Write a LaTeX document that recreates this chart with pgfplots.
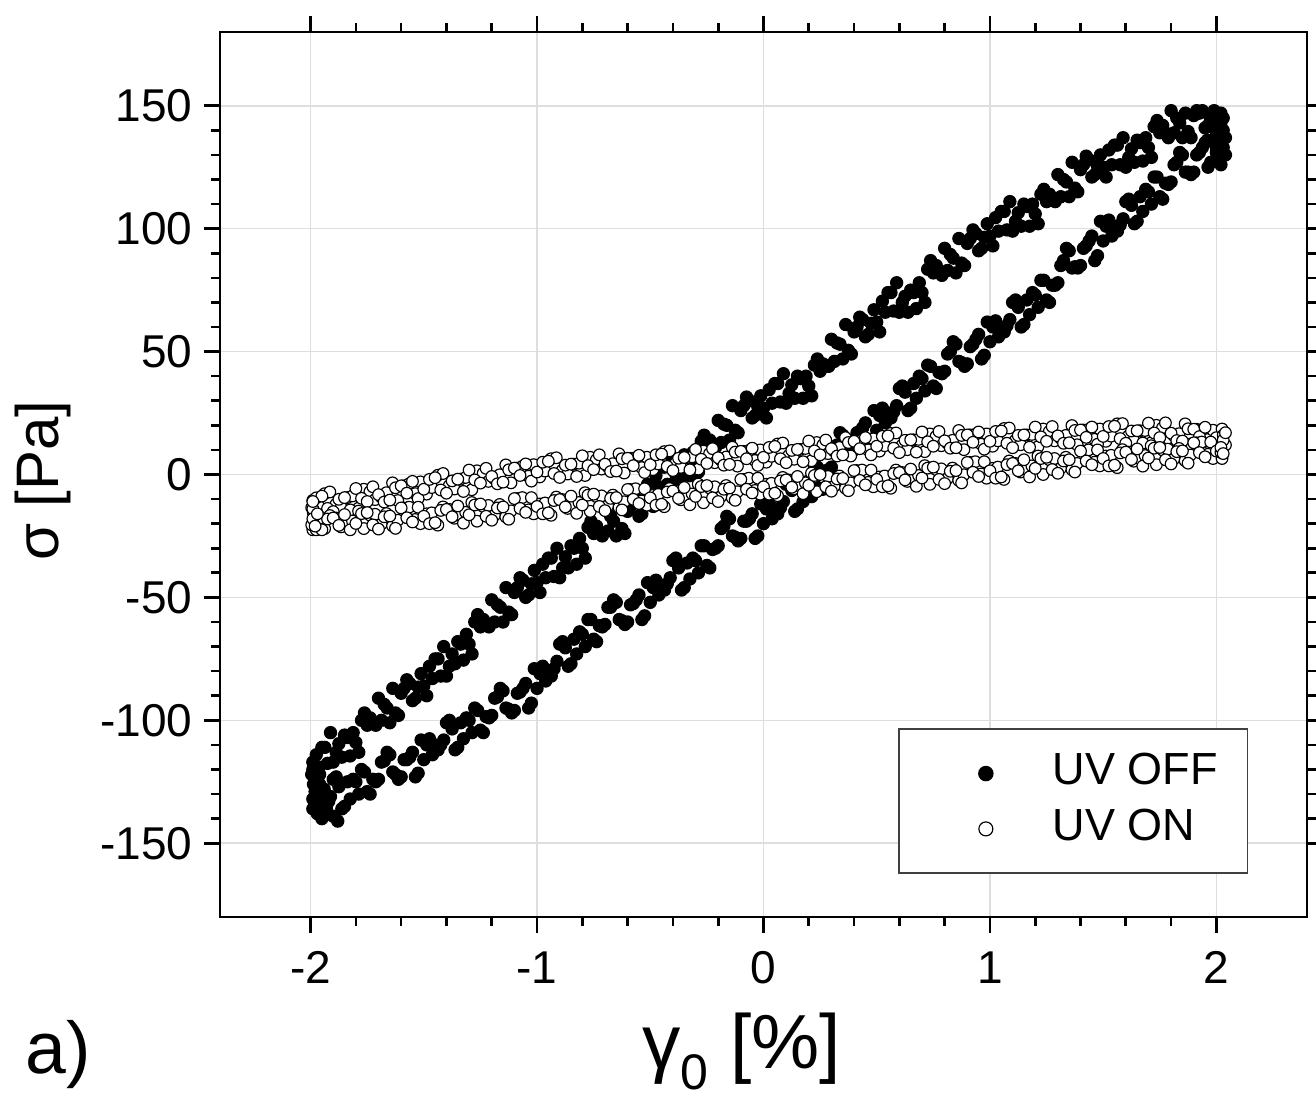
\documentclass[border=0pt]{standalone}
\usepackage{pgfplots}
\pgfplotsset{compat=1.18}
\usepackage{fontspec}
\setmainfont{Liberation Sans}

\begin{document}
\begin{tikzpicture}
\begin{axis}[
    width=326.1pt, height=265.5pt, scale only axis,
    xmin=-2.4, xmax=2.4, ymin=-180, ymax=180,
    xtick={-2,-1,0,1,2},
    ytick={-150,-100,-50,0,50,100,150},
    minor x tick num=4, minor y tick num=4,
    tick align=outside,
    major tick length=4.8pt, minor tick length=2.6pt,
    every tick/.style={black, line width=0.8pt},
    axis line style={line width=0.8pt},
    grid=major,
    major grid style={color=black!13, line width=0.45pt},
    /pgf/number format/assume math mode=true,
    tick label style={font=\fontsize{13.8}{16}\selectfont},
    xticklabel style={yshift=-2pt},
    xlabel={γ\raisebox{-0.5ex}{\fontsize{15}{15}\selectfont 0} [\%]},
    xlabel style={font=\fontsize{23}{26}\selectfont, at={(axis description cs:0.48,0)}, anchor=base, yshift=-45.6pt},
    ylabel={σ [Pa]},
    ylabel style={font=\fontsize{18}{21}\selectfont, at={(axis description cs:-0.1626,0.493)}, anchor=center},
    legend style={at={(0.946,0.0486)}, anchor=south east, draw=black!75, line width=0.45pt,
        inner xsep=7pt, inner ysep=5pt, font=\fontsize{13.5}{16}\selectfont,
        nodes={text height=9.8pt, text depth=3pt, inner ysep=1.9pt}},
    legend cell align=left,
    legend image code/.code={\path[draw=none, fill=none] (-3pt,-3pt) rectangle (34pt,3pt);
        \draw[mark size=2.1pt] plot coordinates {(16pt,0pt)};},
]

% UV OFF: upper branch, lower branch, end clusters
\addplot[only marks, mark=*, mark size=1.8pt, mark options={fill=black, draw=black}] table[row sep=\\] {
x y \\
-1.990 -117 \\ -1.987 -126 \\ -1.962 -119 \\ -1.937 -111 \\
-1.912 -105 \\ -1.887 -113 \\ -1.862 -115 \\ -1.837 -107 \\
-1.812 -105 \\ -1.787 -113 \\ -1.762 -97 \\ -1.737 -99 \\
-1.712 -102 \\ -1.687 -100 \\ -1.662 -95 \\ -1.637 -87 \\
-1.612 -98 \\ -1.587 -87 \\ -1.562 -85 \\ -1.537 -91 \\
-1.512 -81 \\ -1.487 -90 \\ -1.462 -83 \\ -1.437 -75 \\
-1.412 -70 \\ -1.387 -78 \\ -1.362 -77 \\ -1.337 -69 \\
-1.312 -65 \\ -1.287 -73 \\ -1.262 -57 \\ -1.237 -59 \\
-1.212 -62 \\ -1.187 -60 \\ -1.162 -54 \\ -1.137 -46 \\
-1.112 -57 \\ -1.087 -46 \\ -1.062 -43 \\ -1.037 -49 \\
-1.012 -39 \\ -0.987 -48 \\ -0.962 -42 \\ -0.937 -34 \\
-0.912 -30 \\ -0.887 -38 \\ -0.862 -38 \\ -0.837 -30 \\
-0.812 -26 \\ -0.787 -34 \\ -0.762 -19 \\ -0.737 -21 \\
-0.712 -25 \\ -0.687 -23 \\ -0.662 -19 \\ -0.637 -11 \\
-0.612 -24 \\ -0.587 -13 \\ -0.562 -10 \\ -0.537 -16 \\
-0.512 -4 \\ -0.487 -13 \\ -0.462 -5 \\ -0.437 3 \\
-0.412 8 \\ -0.387 0 \\ -0.362 -1 \\ -0.337 7 \\
-0.312 9 \\ -0.287 1 \\ -0.262 16 \\ -0.237 14 \\
-0.212 11 \\ -0.187 13 \\ -0.162 20 \\ -0.137 28 \\
-0.112 17 \\ -0.087 28 \\ -0.062 30 \\ -0.037 24 \\
-0.012 32 \\ 0.013 23 \\ 0.038 29 \\ 0.063 37 \\
0.088 41 \\ 0.113 33 \\ 0.138 31 \\ 0.163 39 \\
0.188 40 \\ 0.213 32 \\ 0.238 47 \\ 0.263 45 \\
0.288 44 \\ 0.313 46 \\ 0.338 53 \\ 0.363 61 \\
0.388 49 \\ 0.413 60 \\ 0.438 63 \\ 0.463 57 \\
0.488 67 \\ 0.513 58 \\ 0.538 66 \\ 0.563 74 \\
0.588 78 \\ 0.613 70 \\ 0.638 66 \\ 0.663 74 \\
0.688 78 \\ 0.713 70 \\ 0.738 87 \\ 0.763 85 \\
0.788 81 \\ 0.813 83 \\ 0.838 88 \\ 0.863 96 \\
0.888 85 \\ 0.913 96 \\ 0.938 98 \\ 0.963 92 \\
0.988 102 \\ 1.013 93 \\ 1.038 99 \\ 1.063 107 \\
1.088 111 \\ 1.113 103 \\ 1.138 101 \\ 1.163 109 \\
1.188 110 \\ 1.213 102 \\ 1.238 116 \\ 1.263 114 \\
1.288 111 \\ 1.313 113 \\ 1.338 119 \\ 1.363 127 \\
1.388 115 \\ 1.413 126 \\ 1.438 128 \\ 1.463 122 \\
1.488 130 \\ 1.513 121 \\ 1.538 126 \\ 1.563 134 \\
1.588 137 \\ 1.613 129 \\ 1.638 127 \\ 1.663 135 \\
1.688 137 \\ 1.713 129 \\ 1.738 144 \\ 1.763 142 \\
1.788 137 \\ 1.813 139 \\ 1.838 143 \\ 1.863 147 \\
1.888 137 \\ 1.913 148 \\ 1.938 148 \\ 1.963 142 \\
1.988 147 \\ 2.013 138 \\
-1.995 -122 \\ -1.975 -114 \\ -1.950 -111 \\ -1.925 -117.5 \\
-1.900 -117 \\ -1.875 -109.5 \\ -1.850 -106 \\ -1.825 -114.5 \\
-1.800 -109 \\ -1.775 -100 \\ -1.750 -102 \\ -1.725 -101 \\
-1.700 -91 \\ -1.675 -93.5 \\ -1.650 -101 \\ -1.625 -97 \\
-1.600 -89 \\ -1.575 -83.5 \\ -1.550 -92 \\ -1.525 -86.5 \\
-1.500 -86 \\ -1.475 -78 \\ -1.450 -75 \\ -1.425 -82 \\
-1.400 -82 \\ -1.375 -73 \\ -1.350 -68 \\ -1.325 -75.5 \\
-1.300 -69 \\ -1.275 -60 \\ -1.250 -62 \\ -1.225 -61 \\
-1.200 -51 \\ -1.175 -53 \\ -1.150 -60 \\ -1.125 -56 \\
-1.100 -48 \\ -1.075 -42 \\ -1.050 -50 \\ -1.025 -44.5 \\
-1.000 -44 \\ -0.975 -36.5 \\ -0.950 -34 \\ -0.925 -41.5 \\
-0.900 -42 \\ -0.875 -33.5 \\ -0.850 -29 \\ -0.825 -36.5 \\
-0.800 -30 \\ -0.775 -21.5 \\ -0.750 -24 \\ -0.725 -23.5 \\
-0.700 -14 \\ -0.675 -17 \\ -0.650 -25 \\ -0.625 -22 \\
-0.600 -15 \\ -0.575 -9 \\ -0.550 -17 \\ -0.525 -10.5 \\
-0.500 -9 \\ -0.475 -0.5 \\ -0.450 3 \\ -0.425 -4 \\
-0.400 -4 \\ -0.375 4 \\ -0.350 8 \\ -0.325 -0.5 \\
-0.300 5 \\ -0.275 13.5 \\ -0.250 11 \\ -0.225 12 \\
-0.200 22 \\ -0.175 20.5 \\ -0.150 14 \\ -0.125 18 \\
-0.100 26 \\ -0.075 31.5 \\ -0.050 23 \\ -0.025 27.5 \\
0.000 27 \\ 0.025 34.5 \\ 0.050 37 \\ 0.075 29.5 \\
0.100 29 \\ 0.125 36.5 \\ 0.150 40 \\ 0.175 31 \\
0.200 36 \\ 0.225 44.5 \\ 0.250 42 \\ 0.275 44 \\
0.300 55 \\ 0.325 53.5 \\ 0.350 47 \\ 0.375 50.5 \\
0.400 58 \\ 0.425 64 \\ 0.450 56 \\ 0.475 61.5 \\
0.500 62 \\ 0.525 70.5 \\ 0.550 74 \\ 0.575 66.5 \\
0.600 66 \\ 0.625 72.5 \\ 0.650 75 \\ 0.675 67.5 \\
0.700 74 \\ 0.725 83.5 \\ 0.750 82 \\ 0.775 82.5 \\
0.800 92 \\ 0.825 89.5 \\ 0.850 82 \\ 0.875 86 \\
0.900 94 \\ 0.925 99.5 \\ 0.950 91 \\ 0.975 96.5 \\
1.000 97 \\ 1.025 104.5 \\ 1.050 107 \\ 1.075 99.5 \\
1.100 99 \\ 1.125 106.5 \\ 1.150 110 \\ 1.175 101 \\
1.200 106 \\ 1.225 114 \\ 1.250 111 \\ 1.275 112 \\
1.300 122 \\ 1.325 120 \\ 1.350 113 \\ 1.375 116.5 \\
1.400 124 \\ 1.425 129.5 \\ 1.450 121 \\ 1.475 125.5 \\
1.500 125 \\ 1.525 132 \\ 1.550 134 \\ 1.575 126 \\
1.600 125 \\ 1.625 132.5 \\ 1.650 136 \\ 1.675 127.5 \\
1.700 133 \\ 1.725 141.5 \\ 1.750 139 \\ 1.775 139 \\
1.800 148 \\ 1.825 145 \\ 1.850 137 \\ 1.875 139.5 \\
1.900 146 \\ 1.925 147 \\ 1.950 141 \\ 1.975 144 \\
2.000 142 \\
-1.962 -137 \\ -1.937 -135 \\ -1.912 -131 \\ -1.887 -123 \\
-1.862 -136 \\ -1.837 -125 \\ -1.812 -124 \\ -1.787 -130 \\
-1.762 -121 \\ -1.737 -130 \\ -1.712 -125 \\ -1.687 -117 \\
-1.662 -113 \\ -1.637 -121 \\ -1.612 -124 \\ -1.587 -116 \\
-1.562 -115 \\ -1.537 -123 \\ -1.512 -108 \\ -1.487 -110 \\
-1.462 -114 \\ -1.437 -112 \\ -1.412 -108 \\ -1.387 -100 \\
-1.362 -112 \\ -1.337 -101 \\ -1.312 -99 \\ -1.287 -105 \\
-1.262 -96 \\ -1.237 -105 \\ -1.212 -99 \\ -1.187 -91 \\
-1.162 -87 \\ -1.137 -95 \\ -1.112 -97 \\ -1.087 -89 \\
-1.062 -87 \\ -1.037 -95 \\ -1.012 -79 \\ -0.987 -81 \\
-0.962 -84 \\ -0.937 -82 \\ -0.912 -76 \\ -0.887 -68 \\
-0.862 -78 \\ -0.837 -67 \\ -0.812 -64 \\ -0.787 -70 \\
-0.762 -59 \\ -0.737 -68 \\ -0.712 -62 \\ -0.687 -54 \\
-0.662 -51 \\ -0.637 -59 \\ -0.612 -61 \\ -0.587 -53 \\
-0.562 -51 \\ -0.537 -59 \\ -0.512 -44 \\ -0.487 -46 \\
-0.462 -49 \\ -0.437 -47 \\ -0.412 -42 \\ -0.387 -34 \\
-0.362 -47 \\ -0.337 -36 \\ -0.312 -34 \\ -0.287 -40 \\
-0.262 -29 \\ -0.237 -38 \\ -0.212 -30 \\ -0.187 -22 \\
-0.162 -17 \\ -0.137 -25 \\ -0.112 -27 \\ -0.087 -19 \\
-0.062 -18 \\ -0.037 -26 \\ -0.012 -12 \\ 0.013 -14 \\
0.038 -18 \\ 0.063 -16 \\ 0.088 -11 \\ 0.113 -3 \\
0.138 -15 \\ 0.163 -4 \\ 0.188 -3 \\ 0.213 -9 \\
0.238 3 \\ 0.263 -6 \\ 0.288 2 \\ 0.313 10 \\
0.338 17 \\ 0.363 9 \\ 0.388 9 \\ 0.413 17 \\
0.438 19 \\ 0.463 11 \\ 0.488 26 \\ 0.513 24 \\
0.538 21 \\ 0.563 23 \\ 0.588 28 \\ 0.613 36 \\
0.638 26 \\ 0.663 37 \\ 0.688 40 \\ 0.713 34 \\
0.738 44 \\ 0.763 35 \\ 0.788 41 \\ 0.813 49 \\
0.838 54 \\ 0.863 46 \\ 0.888 44 \\ 0.913 52 \\
0.938 55 \\ 0.963 47 \\ 0.988 62 \\ 1.013 60 \\
1.038 56 \\ 1.063 58 \\ 1.088 63 \\ 1.113 71 \\
1.138 60 \\ 1.163 71 \\ 1.188 74 \\ 1.213 68 \\
1.238 79 \\ 1.263 70 \\ 1.288 77 \\ 1.313 85 \\
1.338 92 \\ 1.363 84 \\ 1.388 84 \\ 1.413 92 \\
1.438 95 \\ 1.463 87 \\ 1.488 103 \\ 1.513 101 \\
1.538 97 \\ 1.563 99 \\ 1.588 104 \\ 1.613 112 \\
1.638 102 \\ 1.663 113 \\ 1.688 116 \\ 1.713 110 \\
1.738 121 \\ 1.763 112 \\ 1.788 118 \\ 1.813 126 \\
1.838 131 \\ 1.863 123 \\ 1.888 122 \\ 1.913 130 \\
1.938 133 \\ 1.963 125 \\ 1.988 141 \\ 2.013 139 \\
-1.950 -133 \\ -1.925 -133 \\ -1.900 -124 \\ -1.875 -127 \\
-1.850 -135 \\ -1.825 -132 \\ -1.800 -125 \\ -1.775 -120 \\
-1.750 -129 \\ -1.725 -124 \\ -1.700 -124 \\ -1.675 -116.5 \\
-1.650 -114 \\ -1.625 -122 \\ -1.600 -123 \\ -1.575 -116 \\
-1.550 -113 \\ -1.525 -121.5 \\ -1.500 -116 \\ -1.475 -107.5 \\
-1.450 -110 \\ -1.425 -110 \\ -1.400 -101 \\ -1.375 -103.5 \\
-1.350 -111 \\ -1.325 -107.5 \\ -1.300 -100 \\ -1.275 -95 \\
-1.250 -104 \\ -1.225 -98.5 \\ -1.200 -98 \\ -1.175 -90.5 \\
-1.150 -88 \\ -1.125 -95.5 \\ -1.100 -96 \\ -1.075 -88.5 \\
-1.050 -85 \\ -1.025 -93 \\ -1.000 -87 \\ -0.975 -78 \\
-0.950 -80 \\ -0.925 -79 \\ -0.900 -69 \\ -0.875 -70.5 \\
-0.850 -77 \\ -0.825 -73 \\ -0.800 -65 \\ -0.775 -59 \\
-0.750 -67 \\ -0.725 -61.5 \\ -0.700 -61 \\ -0.675 -54 \\
-0.650 -52 \\ -0.625 -59.5 \\ -0.600 -60 \\ -0.575 -52.5 \\
-0.550 -49 \\ -0.525 -57.5 \\ -0.500 -52 \\ -0.475 -43 \\
-0.450 -45 \\ -0.425 -44.5 \\ -0.400 -35 \\ -0.375 -38 \\
-0.350 -46 \\ -0.325 -42.5 \\ -0.300 -35 \\ -0.275 -29 \\
-0.250 -37 \\ -0.225 -30.5 \\ -0.200 -29 \\ -0.175 -21 \\
-0.150 -18 \\ -0.125 -25.5 \\ -0.100 -26 \\ -0.075 -19 \\
-0.050 -16 \\ -0.025 -25 \\ 0.000 -20 \\ 0.025 -11.5 \\
0.050 -14 \\ 0.075 -13.5 \\ 0.100 -4 \\ 0.125 -6.5 \\
0.150 -14 \\ 0.175 -11 \\ 0.200 -4 \\ 0.225 2.5 \\
0.250 -5 \\ 0.275 1.5 \\ 0.300 3 \\ 0.325 12 \\
0.350 16 \\ 0.375 9.5 \\ 0.400 10 \\ 0.425 17.5 \\
0.450 21 \\ 0.475 12.5 \\ 0.500 18 \\ 0.525 27 \\
0.550 25 \\ 0.575 25.5 \\ 0.600 35 \\ 0.625 33.5 \\
0.650 27 \\ 0.675 31 \\ 0.700 39 \\ 0.725 44.5 \\
0.750 36 \\ 0.775 41.5 \\ 0.800 42 \\ 0.825 50 \\
0.850 53 \\ 0.875 45.5 \\ 0.900 45 \\ 0.925 53 \\
0.950 57 \\ 0.975 48.5 \\ 1.000 54 \\ 1.025 62.5 \\
1.050 60 \\ 1.075 60.5 \\ 1.100 70 \\ 1.125 68 \\
1.150 61 \\ 1.175 65 \\ 1.200 73 \\ 1.225 79 \\
1.250 71 \\ 1.275 77 \\ 1.300 78 \\ 1.325 87 \\
1.350 91 \\ 1.375 84.5 \\ 1.400 85 \\ 1.425 93 \\
1.450 97 \\ 1.475 89 \\ 1.500 95 \\ 1.525 103.5 \\
1.550 101 \\ 1.575 101.5 \\ 1.600 111 \\ 1.625 109.5 \\
1.650 103 \\ 1.675 107 \\ 1.700 115 \\ 1.725 121 \\
1.750 113 \\ 1.775 118.5 \\ 1.800 119 \\ 1.825 127 \\
1.850 130 \\ 1.875 123 \\ 1.900 123 \\ 1.925 131 \\
1.950 135 \\ 1.975 127 \\ 2.000 133 \\
2.02 147 \\ 2.03 140 \\ 2.01 135 \\ 2.04 130 \\ 2.02 126 \\
1.99 148 \\ 2.03 145 \\ 2.00 138 \\ 2.04 137 \\ 2.01 128 \\
1.97 146 \\ 2.03 133 \\ 1.96 136 \\ 2.02 143 \\ 2.00 131 \\
-1.98 -125 \\ -1.99 -132 \\ -1.97 -138 \\ -1.95 -140 \\ -1.98 -129 \\
-1.96 -122 \\ -1.93 -136 \\ -1.99 -120 \\ -1.90 -139 \\ -1.97 -134 \\
-1.94 -128 \\ -1.88 -141 \\ -1.96 -126 \\ -1.99 -136 \\ -1.92 -133 \\
};
\addlegendentry{UV OFF}

% UV ON: upper branch, lower branch, end clusters
\addplot[only marks, mark=*, mark size=1.75pt, mark options={fill=white, draw=black, line width=0.35pt}] table[row sep=\\] {
x y \\
-1.990 -10.5 \\ -1.988 -15.5 \\ -1.965 -12.8 \\ -1.938 -7.8 \\
-1.915 -7.1 \\ -1.888 -12.1 \\ -1.865 -13.4 \\ -1.838 -9.4 \\
-1.815 -8.7 \\ -1.788 -13.7 \\ -1.765 -6 \\ -1.738 -7 \\
-1.715 -10.2 \\ -1.688 -9.2 \\ -1.665 -7.4 \\ -1.638 -3.4 \\
-1.615 -10.6 \\ -1.588 -4.6 \\ -1.565 -3.8 \\ -1.538 -7.8 \\
-1.515 -3 \\ -1.488 -8 \\ -1.465 -5.3 \\ -1.438 -0.3 \\
-1.415 0.4 \\ -1.388 -4.6 \\ -1.365 -5.9 \\ -1.338 -1.9 \\
-1.315 -1.2 \\ -1.288 -6.2 \\ -1.265 1.5 \\ -1.238 0.5 \\
-1.215 -2.8 \\ -1.188 -1.8 \\ -1.165 -0.1 \\ -1.138 3.9 \\
-1.115 -3.4 \\ -1.088 2.6 \\ -1.065 3.3 \\ -1.038 -0.7 \\
-1.015 4 \\ -0.988 -1 \\ -0.965 1.4 \\ -0.938 6.4 \\
-0.915 6.8 \\ -0.888 1.8 \\ -0.865 0.2 \\ -0.838 4.2 \\
-0.815 4.6 \\ -0.788 -0.4 \\ -0.765 7 \\ -0.738 6 \\
-0.715 2.2 \\ -0.688 3.2 \\ -0.665 4.4 \\ -0.638 8.4 \\
-0.615 0.6 \\ -0.588 6.6 \\ -0.565 6.8 \\ -0.538 2.8 \\
-0.515 7 \\ -0.488 2 \\ -0.465 4.3 \\ -0.438 9.3 \\
-0.415 9.6 \\ -0.388 4.6 \\ -0.365 2.9 \\ -0.338 6.9 \\
-0.315 7.2 \\ -0.288 2.2 \\ -0.265 9.5 \\ -0.238 8.5 \\
-0.215 4.8 \\ -0.188 5.8 \\ -0.165 7.1 \\ -0.138 11.1 \\
-0.115 3.4 \\ -0.088 9.4 \\ -0.065 9.7 \\ -0.038 5.7 \\
-0.015 10 \\ 0.012 5 \\ 0.035 7.4 \\ 0.062 12.4 \\
0.085 12.8 \\ 0.112 7.8 \\ 0.135 6.2 \\ 0.162 10.2 \\
0.185 10.6 \\ 0.212 5.6 \\ 0.235 13 \\ 0.262 12 \\
0.285 8.5 \\ 0.312 9.5 \\ 0.335 11 \\ 0.362 15 \\
0.385 7.5 \\ 0.412 13.5 \\ 0.435 14 \\ 0.462 10 \\
0.485 14.5 \\ 0.512 9.5 \\ 0.535 11.7 \\ 0.562 16.7 \\
0.585 16.9 \\ 0.612 11.9 \\ 0.635 10.1 \\ 0.662 14.1 \\
0.685 14.3 \\ 0.712 9.3 \\ 0.735 16.5 \\ 0.762 15.5 \\
0.785 11.7 \\ 0.812 12.7 \\ 0.835 13.9 \\ 0.862 17.9 \\
0.885 10.1 \\ 0.912 16.1 \\ 0.935 16.3 \\ 0.962 12.3 \\
0.985 16.5 \\ 1.012 11.5 \\ 1.035 13.7 \\ 1.062 18.7 \\
1.085 18.9 \\ 1.112 13.9 \\ 1.135 12.1 \\ 1.162 16.1 \\
1.185 16.3 \\ 1.212 11.3 \\ 1.235 18.5 \\ 1.262 17.5 \\
1.285 13.7 \\ 1.312 14.7 \\ 1.335 15.9 \\ 1.362 19.9 \\
1.385 12.1 \\ 1.412 18.1 \\ 1.435 18.3 \\ 1.462 14.3 \\
1.485 18.5 \\ 1.512 13.5 \\ 1.535 15.6 \\ 1.562 20.6 \\
1.585 20.7 \\ 1.612 15.7 \\ 1.635 13.8 \\ 1.662 17.8 \\
1.685 17.9 \\ 1.712 12.9 \\ 1.735 20 \\ 1.762 19 \\
1.785 14.8 \\ 1.812 15.8 \\ 1.835 16.6 \\ 1.862 20.6 \\
1.885 12.4 \\ 1.912 18.4 \\ 1.935 18.2 \\ 1.962 14.2 \\
1.985 18 \\ 2.012 13 \\
-1.995 -13.5 \\ -1.975 -9.5 \\ -1.950 -8.8 \\ -1.925 -13.8 \\
-1.900 -15.1 \\ -1.875 -10.1 \\ -1.850 -9.4 \\ -1.825 -14.4 \\
-1.800 -5.7 \\ -1.775 -9.7 \\ -1.750 -11 \\ -1.725 -5 \\
-1.700 -8.2 \\ -1.675 -11.2 \\ -1.650 -10.4 \\ -1.625 -5.4 \\
-1.600 -4.6 \\ -1.575 -7.6 \\ -1.550 -2.8 \\ -1.525 -9.8 \\
-1.500 -6 \\ -1.475 -2 \\ -1.450 -1.3 \\ -1.425 -6.3 \\
-1.400 -7.6 \\ -1.375 -2.6 \\ -1.350 -1.9 \\ -1.325 -6.9 \\
-1.300 1.8 \\ -1.275 -2.2 \\ -1.250 -3.5 \\ -1.225 2.5 \\
-1.200 -0.8 \\ -1.175 -3.8 \\ -1.150 -3.1 \\ -1.125 1.9 \\
-1.100 2.6 \\ -1.075 -0.4 \\ -1.050 4.3 \\ -1.025 -2.7 \\
-1.000 1 \\ -0.975 5 \\ -0.950 5.4 \\ -0.925 0.4 \\
-0.900 -1.2 \\ -0.875 3.8 \\ -0.850 4.2 \\ -0.825 -0.8 \\
-0.800 7.6 \\ -0.775 3.6 \\ -0.750 2 \\ -0.725 8 \\
-0.700 4.2 \\ -0.675 1.2 \\ -0.650 1.4 \\ -0.625 6.4 \\
-0.600 6.6 \\ -0.575 3.6 \\ -0.550 7.8 \\ -0.525 0.8 \\
-0.500 4 \\ -0.475 8 \\ -0.450 8.3 \\ -0.425 3.3 \\
-0.400 1.6 \\ -0.375 6.6 \\ -0.350 6.9 \\ -0.325 1.9 \\
-0.300 10.2 \\ -0.275 6.2 \\ -0.250 4.5 \\ -0.225 10.5 \\
-0.200 6.8 \\ -0.175 3.8 \\ -0.150 4.1 \\ -0.125 9.1 \\
-0.100 9.4 \\ -0.075 6.4 \\ -0.050 10.7 \\ -0.025 3.7 \\
0.000 7 \\ 0.025 11 \\ 0.050 11.4 \\ 0.075 6.4 \\
0.100 4.8 \\ 0.125 9.8 \\ 0.150 10.2 \\ 0.175 5.2 \\
0.200 13.6 \\ 0.225 9.6 \\ 0.250 8 \\ 0.275 14 \\
0.300 10.5 \\ 0.325 7.5 \\ 0.350 8 \\ 0.375 13 \\
0.400 13.5 \\ 0.425 10.5 \\ 0.450 15 \\ 0.475 8 \\
0.500 11.5 \\ 0.525 15.5 \\ 0.550 15.7 \\ 0.575 10.7 \\
0.600 8.9 \\ 0.625 13.9 \\ 0.650 14.1 \\ 0.675 9.1 \\
0.700 17.3 \\ 0.725 13.3 \\ 0.750 11.5 \\ 0.775 17.5 \\
0.800 13.7 \\ 0.825 10.7 \\ 0.850 10.9 \\ 0.875 15.9 \\
0.900 16.1 \\ 0.925 13.1 \\ 0.950 17.3 \\ 0.975 10.3 \\
1.000 13.5 \\ 1.025 17.5 \\ 1.050 17.7 \\ 1.075 12.7 \\
1.100 10.9 \\ 1.125 15.9 \\ 1.150 16.1 \\ 1.175 11.1 \\
1.200 19.3 \\ 1.225 15.3 \\ 1.250 13.5 \\ 1.275 19.5 \\
1.300 15.7 \\ 1.325 12.7 \\ 1.350 12.9 \\ 1.375 17.9 \\
1.400 18.1 \\ 1.425 15.1 \\ 1.450 19.3 \\ 1.475 12.3 \\
1.500 15.5 \\ 1.525 19.5 \\ 1.550 19.6 \\ 1.575 14.6 \\
1.600 12.7 \\ 1.625 17.7 \\ 1.650 17.8 \\ 1.675 12.8 \\
1.700 20.9 \\ 1.725 16.9 \\ 1.750 15 \\ 1.775 21 \\
1.800 16.8 \\ 1.825 13.8 \\ 1.850 13.6 \\ 1.875 18.6 \\
1.900 18.4 \\ 1.925 15.4 \\ 1.950 19.2 \\ 1.975 12.2 \\
2.000 15 \\ 2.025 18.5 \\
-1.990 -22.5 \\ -1.988 -19.5 \\ -1.965 -19.1 \\ -1.938 -22 \\
-1.915 -16.7 \\ -1.888 -17.7 \\ -1.865 -21.3 \\ -1.838 -20.3 \\
-1.815 -18.9 \\ -1.788 -14.9 \\ -1.765 -22 \\ -1.738 -16.5 \\
-1.715 -16.2 \\ -1.688 -20.2 \\ -1.665 -15.9 \\ -1.638 -20.9 \\
-1.615 -18.6 \\ -1.588 -13.6 \\ -1.565 -13.3 \\ -1.538 -18.3 \\
-1.515 -20 \\ -1.488 -16 \\ -1.465 -15.6 \\ -1.438 -20.6 \\
-1.415 -13.2 \\ -1.388 -14.2 \\ -1.365 -17.8 \\ -1.338 -16.8 \\
-1.315 -15.4 \\ -1.288 -11.4 \\ -1.265 -19 \\ -1.238 -13 \\
-1.215 -12.6 \\ -1.188 -16.6 \\ -1.165 -12.2 \\ -1.138 -17.2 \\
-1.115 -14.8 \\ -1.088 -9.8 \\ -1.065 -9.4 \\ -1.038 -14.4 \\
-1.015 -16 \\ -0.988 -12 \\ -0.965 -11.6 \\ -0.938 -16.6 \\
-0.915 -9.2 \\ -0.888 -10.2 \\ -0.865 -13.8 \\ -0.838 -12.8 \\
-0.815 -11.4 \\ -0.788 -7.4 \\ -0.765 -15 \\ -0.738 -9 \\
-0.715 -8.7 \\ -0.688 -12.7 \\ -0.665 -8.4 \\ -0.638 -13.4 \\
-0.615 -11.1 \\ -0.588 -6.1 \\ -0.565 -5.8 \\ -0.538 -10.8 \\
-0.515 -12.5 \\ -0.488 -8.5 \\ -0.465 -8.1 \\ -0.438 -13.1 \\
-0.415 -5.7 \\ -0.388 -6.7 \\ -0.365 -10.3 \\ -0.338 -9.3 \\
-0.315 -7.9 \\ -0.288 -3.9 \\ -0.265 -11.5 \\ -0.238 -5.5 \\
-0.215 -5 \\ -0.188 -9 \\ -0.165 -4.5 \\ -0.138 -9.5 \\
-0.115 -7 \\ -0.088 -2 \\ -0.065 -1.5 \\ -0.038 -6.5 \\
-0.015 -8 \\ 0.012 -4 \\ 0.035 -3.6 \\ 0.062 -8.6 \\
0.085 -1.2 \\ 0.112 -2.2 \\ 0.135 -5.8 \\ 0.162 -4.8 \\
0.185 -3.4 \\ 0.212 0.6 \\ 0.235 -7 \\ 0.262 -1 \\
0.285 -0.8 \\ 0.312 -4.8 \\ 0.335 -0.6 \\ 0.362 -5.6 \\
0.385 -3.4 \\ 0.412 1.6 \\ 0.435 1.8 \\ 0.462 -3.2 \\
0.485 -5 \\ 0.512 -1 \\ 0.535 -0.6 \\ 0.562 -5.6 \\
0.585 1.8 \\ 0.612 0.8 \\ 0.635 -2.8 \\ 0.662 -1.8 \\
0.685 -0.4 \\ 0.712 3.6 \\ 0.735 -4 \\ 0.762 2 \\
0.785 2.3 \\ 0.812 -1.7 \\ 0.835 2.6 \\ 0.862 -2.4 \\
0.885 -0.1 \\ 0.912 4.9 \\ 0.935 5.2 \\ 0.962 0.2 \\
0.985 -1.5 \\ 1.012 2.5 \\ 1.035 3 \\ 1.062 -2 \\
1.085 5.5 \\ 1.112 4.5 \\ 1.135 1 \\ 1.162 2 \\
1.185 3.5 \\ 1.212 7.5 \\ 1.235 0 \\ 1.262 6 \\
1.285 6.5 \\ 1.312 2.5 \\ 1.335 7 \\ 1.362 2 \\
1.385 4.5 \\ 1.412 9.5 \\ 1.435 10 \\ 1.462 5 \\
1.485 3.5 \\ 1.512 7.5 \\ 1.535 7.8 \\ 1.562 2.8 \\
1.585 10.1 \\ 1.612 9.1 \\ 1.635 5.4 \\ 1.662 6.4 \\
1.685 7.7 \\ 1.712 11.7 \\ 1.735 4 \\ 1.762 10 \\
1.785 10.3 \\ 1.812 6.3 \\ 1.835 10.6 \\ 1.862 5.6 \\
1.885 7.9 \\ 1.912 12.9 \\ 1.935 13.2 \\ 1.962 8.2 \\
1.985 6.5 \\ 2.012 10.5 \\
-1.995 -20.5 \\ -1.975 -22.5 \\ -1.950 -22.5 \\ -1.925 -18.1 \\
-1.900 -17.7 \\ -1.875 -20.7 \\ -1.850 -16.3 \\ -1.825 -22.5 \\
-1.800 -19.9 \\ -1.775 -15.9 \\ -1.750 -15.5 \\ -1.725 -20.5 \\
-1.700 -22.2 \\ -1.675 -17.2 \\ -1.650 -16.9 \\ -1.625 -21.9 \\
-1.600 -13.6 \\ -1.575 -17.6 \\ -1.550 -19.3 \\ -1.525 -13.3 \\
-1.500 -17 \\ -1.475 -20 \\ -1.450 -19.6 \\ -1.425 -14.6 \\
-1.400 -14.2 \\ -1.375 -17.2 \\ -1.350 -12.8 \\ -1.325 -19.8 \\
-1.300 -16.4 \\ -1.275 -12.4 \\ -1.250 -12 \\ -1.225 -17 \\
-1.200 -18.6 \\ -1.175 -13.6 \\ -1.150 -13.2 \\ -1.125 -18.2 \\
-1.100 -9.8 \\ -1.075 -13.8 \\ -1.050 -15.4 \\ -1.025 -9.4 \\
-1.000 -13 \\ -0.975 -16 \\ -0.950 -15.6 \\ -0.925 -10.6 \\
-0.900 -10.2 \\ -0.875 -13.2 \\ -0.850 -8.8 \\ -0.825 -15.8 \\
-0.800 -12.4 \\ -0.775 -8.4 \\ -0.750 -8 \\ -0.725 -13 \\
-0.700 -14.7 \\ -0.675 -9.7 \\ -0.650 -9.4 \\ -0.625 -14.4 \\
-0.600 -6.1 \\ -0.575 -10.1 \\ -0.550 -11.8 \\ -0.525 -5.8 \\
-0.500 -9.5 \\ -0.475 -12.5 \\ -0.450 -12.1 \\ -0.425 -7.1 \\
-0.400 -6.7 \\ -0.375 -9.7 \\ -0.350 -5.3 \\ -0.325 -12.3 \\
-0.300 -8.9 \\ -0.275 -4.9 \\ -0.250 -4.5 \\ -0.225 -9.5 \\
-0.200 -11 \\ -0.175 -6 \\ -0.150 -5.5 \\ -0.125 -10.5 \\
-0.100 -2 \\ -0.075 -6 \\ -0.050 -7.5 \\ -0.025 -1.5 \\
0.000 -5 \\ 0.025 -8 \\ 0.050 -7.6 \\ 0.075 -2.6 \\
0.100 -2.2 \\ 0.125 -5.2 \\ 0.150 -0.8 \\ 0.175 -7.8 \\
0.200 -4.4 \\ 0.225 -0.4 \\ 0.250 0 \\ 0.275 -5 \\
0.300 -6.8 \\ 0.325 -1.8 \\ 0.350 -1.6 \\ 0.375 -6.6 \\
0.400 1.6 \\ 0.425 -2.4 \\ 0.450 -4.2 \\ 0.475 1.8 \\
0.500 -2 \\ 0.525 -5 \\ 0.550 -4.6 \\ 0.575 0.4 \\
0.600 0.8 \\ 0.625 -2.2 \\ 0.650 2.2 \\ 0.675 -4.8 \\
0.700 -1.4 \\ 0.725 2.6 \\ 0.750 3 \\ 0.775 -2 \\
0.800 -3.7 \\ 0.825 1.3 \\ 0.850 1.6 \\ 0.875 -3.4 \\
0.900 4.9 \\ 0.925 0.9 \\ 0.950 -0.8 \\ 0.975 5.2 \\
1.000 1.5 \\ 1.025 -1.5 \\ 1.050 -1 \\ 1.075 4 \\
1.100 4.5 \\ 1.125 1.5 \\ 1.150 6 \\ 1.175 -1 \\
1.200 2.5 \\ 1.225 6.5 \\ 1.250 7 \\ 1.275 2 \\
1.300 0.5 \\ 1.325 5.5 \\ 1.350 6 \\ 1.375 1 \\
1.400 9.5 \\ 1.425 5.5 \\ 1.450 4 \\ 1.475 10 \\
1.500 6.5 \\ 1.525 3.5 \\ 1.550 3.8 \\ 1.575 8.8 \\
1.600 9.1 \\ 1.625 6.1 \\ 1.650 10.4 \\ 1.675 3.4 \\
1.700 6.7 \\ 1.725 10.7 \\ 1.750 11 \\ 1.775 6 \\
1.800 4.3 \\ 1.825 9.3 \\ 1.850 9.6 \\ 1.875 4.6 \\
1.900 12.9 \\ 1.925 8.9 \\ 1.950 7.2 \\ 1.975 13.2 \\
2.000 9.5 \\ 2.025 6.5 \\
2.03 16 \\ 2.04 12 \\ 2.02 9 \\ 2.03 14 \\ 2.04 17 \\ 2.02 11 \\ 2.03 8.5 \\
-1.99 -14 \\ -1.99 -18 \\ -1.98 -21 \\ -1.97 -16 \\ -1.99 -11 \\
};
\addlegendentry{UV ON}
\end{axis}
\node[anchor=base west, inner sep=0pt, font=\fontsize{22}{26}\selectfont] at (-58.5pt,-47pt) {a)};
\pgfresetboundingbox
\path[use as bounding box] (-66pt,-56.7pt) rectangle (328.8pt,275.1pt);
\end{tikzpicture}
\end{document}
